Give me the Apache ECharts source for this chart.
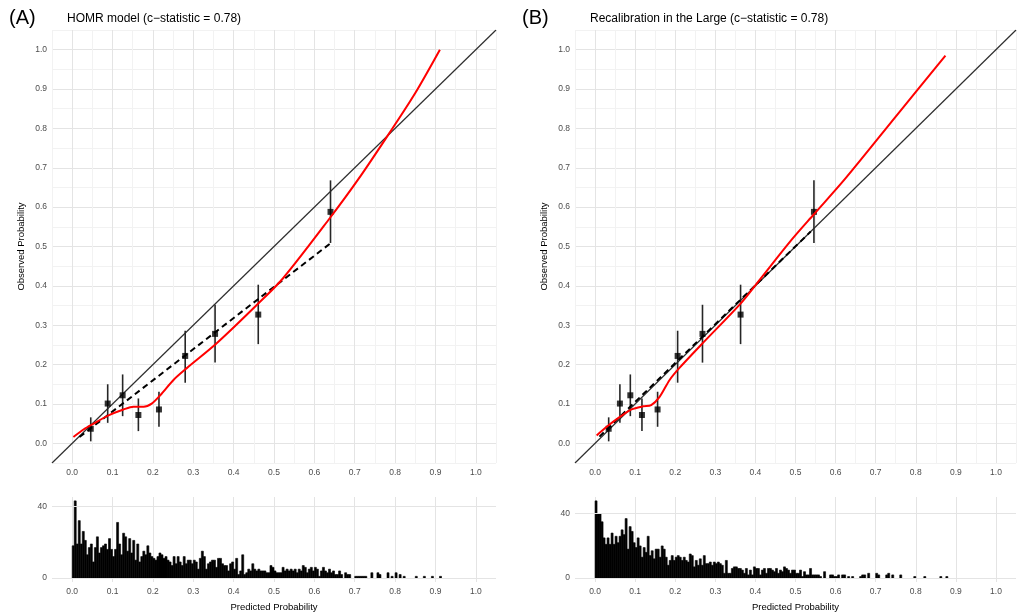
<!DOCTYPE html>
<html>
<head>
<meta charset="utf-8">
<script src="https://cdn.jsdelivr.net/npm/echarts@6/dist/echarts.min.js"></script>
<style>
  html,body{margin:0;padding:0;background:#fff}
  #chart{width:1019px;height:613px}
</style>
</head>
<body>
<div id="chart"></div>
<script>
// === data ===
const TITLE_A='HOMR model (c\u2212statistic = 0.78)';
const TITLE_B='Recalibration in the Large (c\u2212statistic = 0.78)';

// grouped observations (deciles) with 95% intervals
const predA=[0.046,0.088,0.125,0.164,0.215,0.280,0.354,0.461,0.640];
const predB=[0.034,0.062,0.088,0.117,0.156,0.206,0.268,0.363,0.546];
const obs=[0.037,0.101,0.122,0.072,0.086,0.222,0.278,0.327,0.588];
const obsLo=[0.005,0.052,0.069,0.031,0.042,0.154,0.205,0.252,0.509];
const obsHi=[0.066,0.150,0.175,0.114,0.131,0.286,0.352,0.403,0.668];

// linear calibration line (dashed)
const dashA=[[0.018,0.016],[0.641,0.509]];
const dashB=[[0.011,0.017],[0.538,0.538]];

// loess smoother (red)
const loessA=[[0.003,0.016],[0.028,0.035],[0.053,0.050],[0.090,0.071],[0.127,0.086],[0.152,0.093],
  [0.177,0.093],[0.197,0.101],[0.218,0.122],[0.251,0.161],[0.284,0.191],[0.358,0.254],[0.461,0.355],
  [0.523,0.420],[0.639,0.573],[0.709,0.671],[0.787,0.790],[0.850,0.890],[0.911,1.000]];
const loessB=[[0.004,0.020],[0.029,0.042],[0.062,0.067],[0.091,0.086],[0.120,0.094],[0.140,0.097],
  [0.161,0.118],[0.186,0.161],[0.210,0.191],[0.268,0.254],[0.363,0.355],[0.408,0.412],[0.491,0.518],
  [0.546,0.582],[0.623,0.671],[0.750,0.830],[0.874,0.985]];

const diag=[[-0.05,-0.05],[1.05,1.05]];

// histogram counts, bins of 0.005 starting at 0
const BIN=0.005;
const histA=[
  18,43,19,32,19,26,21,13,17,19, 9,17,23,14,17,18,19,16,22,16,
  12,16,31,19,13,25,23,15,22,14, 21,10,19,9,12,15,13,18,14,12,
  11,10,12,14,13,11,12,10,9,7, 12,8,12,9,7,12,8,10,10,8,
  10,
  9,5,11,15,12,5,8,9,10,10, 6,11,11,8,7,7,4,8,9,5,
  11,2,4,13,2,3,5,4,8,5, 4,5,4,4,4,3,3,7,6,4,
  3,3,3,6,4,5,4,5,4,5, 3,5,4,7,6,3,5,6,4,6,
  5,1,4,6,
  4,3,5,3,4,2,2,4,2,0, 3,2,2,0,0,1,1,1,1,1,
  1,0,0,3,0,0,3,2,0,0, 0,3,0,1,0,3,0,2,0,1,
  0,0,0,0,0,1,0,0,0,1, 0,0,0,1,0,0,0,1];
const histB=[
  48,40,40,35,25,21,25,21,28,21, 26,22,26,30,27,37,18,32,29,22,
  19,25,20,13,19,16,26,14,17,12, 18,18,13,20,18,13,8,11,14,11,
  13,14,13,11,13,11,10,15,14,7, 11,8,12,8,14,9,9,10,8,10,
  9,
  10,9,8,3,11,3,3,6,7,7, 6,6,5,3,6,2,5,2,7,6,
  6,2,5,6,3,6,6,5,4,6, 3,5,4,7,6,5,3,5,5,3,
  3,5,1,4,2,2,6,2,2,2, 2,1,0,4,0,0,2,2,1,1,
  2,0,2,2,
  0,1,0,1,0,0,0,1,2,2, 0,3,0,0,0,3,2,0,0,0,
  2,3,0,2,0,0,0,2,0,0, 0,0,0,0,1,0,0,0,0,1,
  0,0,0,0,0,0,0,1,0,0, 1];
const histTicks=[0,40];

// === styles ===
const FONT='"Liberation Sans", Arial, sans-serif';
const MAJOR='#e4e4e4', MINOR='#f2f2f2';

function tickLabel(v){
  const k=Math.round(v*20);
  return (k%2===0&&k>=0&&k<=20)?(k/20).toFixed(1):'';
}
function probAxis(grid,opts){
  return Object.assign({
    gridIndex:grid,type:'value',min:-0.05,max:1.05,interval:0.05,
    axisLine:{show:false},axisTick:{show:false},
    axisLabel:{formatter:tickLabel,fontSize:8.5,color:'#4d4d4d',margin:5,fontFamily:FONT},
    splitLine:{lineStyle:{color:[MINOR,MAJOR],width:1}}
  },opts||{});
}
function histYAxis(grid,maxCount){
  const pad=maxCount*0.05;
  return {
    gridIndex:grid,type:'value',min:-pad,max:maxCount+pad,
    axisLine:{show:false},axisTick:{show:false},splitLine:{show:false},
    axisLabel:{customValues:histTicks,formatter:v=>String(Math.round(v)),fontSize:8.5,color:'#4d4d4d',margin:5,fontFamily:FONT}
  };
}

function histSeries(grid,counts){
  const data=[];
  counts.forEach((c,i)=>{if(c>0)data.push([i*BIN,c]);});
  return {
    type:'custom',xAxisIndex:grid,yAxisIndex:grid,data:data,silent:true,
    renderItem:function(params,api){
      const p0=api.coord([api.value(0),api.value(1)]);
      const p1=api.coord([api.value(0)+BIN,0]);
      return {type:'rect',shape:{x:p0[0],y:p0[1],width:p1[0]-p0[0],height:p1[1]-p0[1]},
        style:{fill:'#000',stroke:'#000',lineWidth:0.6}};
    },
    markLine:{silent:true,symbol:'none',label:{show:false},animation:false,
      lineStyle:{color:MAJOR,width:1,type:'solid'},
      data:histTicks.map(t=>({yAxis:t}))},
    z:3
  };
}
function errSeries(grid,xs){
  return {
    type:'custom',xAxisIndex:grid,yAxisIndex:grid,silent:true,
    data:xs.map((x,i)=>[x,obsLo[i],obsHi[i]]),
    renderItem:function(params,api){
      const a=api.coord([api.value(0),api.value(1)]);
      const b=api.coord([api.value(0),api.value(2)]);
      return {type:'line',shape:{x1:a[0],y1:a[1],x2:b[0],y2:b[1]},style:{stroke:'#262626',lineWidth:1.6}};
    },
    z:4
  };
}
function calSeries(grid,xs,dash,loess){
  return [
    {type:'line',xAxisIndex:grid,yAxisIndex:grid,data:diag,showSymbol:false,silent:true,
      lineStyle:{color:'#2e2e2e',width:1.2},z:2},
    errSeries(grid,xs),
    {type:'scatter',xAxisIndex:grid,yAxisIndex:grid,data:xs.map((x,i)=>[x,obs[i]]),
      symbol:'rect',symbolSize:6,itemStyle:{color:'#000'},silent:true,z:5},
    {type:'line',xAxisIndex:grid,yAxisIndex:grid,data:dash,showSymbol:false,silent:true,
      lineStyle:{color:'#000',width:2,type:[6,4]},z:6},
    {type:'line',xAxisIndex:grid,yAxisIndex:grid,data:loess,showSymbol:false,silent:true,smooth:0.3,
      lineStyle:{color:'#ff0000',width:2},z:7}
  ];
}

const chart=echarts.init(document.getElementById('chart'),null,{renderer:'canvas'});
const txt=(s,l,t,size)=>({text:s,left:l,top:t,padding:0,
  textStyle:{fontSize:size,fontWeight:'normal',color:'#000',fontFamily:FONT}});
const yName={name:'Observed Probability',nameLocation:'middle',nameGap:26,nameRotate:90,
  nameTextStyle:{fontSize:9.5,color:'#000',fontFamily:FONT}};
const xName={name:'Predicted Probability',nameLocation:'middle',nameGap:20,
  nameTextStyle:{fontSize:9.5,color:'#000',fontFamily:FONT},
  splitLine:{lineStyle:{color:['rgba(0,0,0,0)',MAJOR],width:1}}};

chart.setOption({
  animation:false,
  backgroundColor:'#fff',
  textStyle:{fontFamily:FONT},
  title:[
    txt('(A)',9,8,20),txt(TITLE_A,67,13,12),
    txt('(B)',522,8,20),txt(TITLE_B,590,13,12)
  ],
  grid:[
    {left:52,top:30,width:444,height:433},
    {left:575,top:30,width:444,height:433},
    {left:52,top:497,width:444,height:86},
    {left:575,top:497,width:444,height:86}
  ],
  xAxis:[probAxis(0),probAxis(1),probAxis(2,xName),probAxis(3,xName)],
  yAxis:[probAxis(0,yName),probAxis(1,yName),histYAxis(2,43),histYAxis(3,48)],
  series:[].concat(
    calSeries(0,predA,dashA,loessA),
    calSeries(1,predB,dashB,loessB),
    [histSeries(2,histA),histSeries(3,histB)]
  )
});
</script>
</body>
</html>
